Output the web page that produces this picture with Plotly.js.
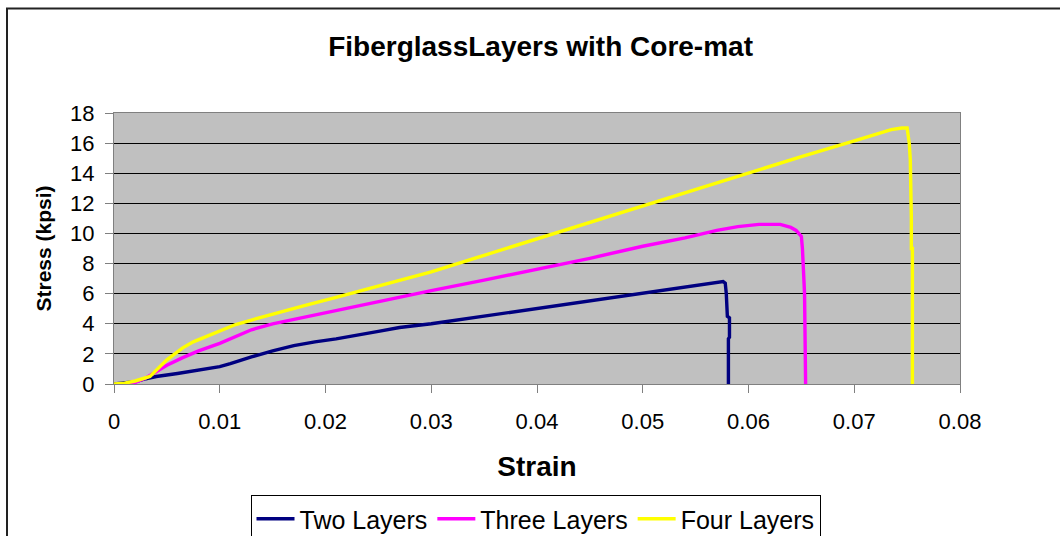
<!DOCTYPE html>
<html>
<head>
<meta charset="utf-8">
<script src="https://cdn.plot.ly/plotly-3.0.1.min.js"></script>
<style>
  html, body { margin: 0; padding: 0; background: #ffffff; }
  #chart { width: 1060px; height: 536px; }
</style>
</head>
<body>
<div id="chart"></div>
<script>
// Stress-strain curves for fiberglass laminates with a core-mat layer
const twoStrain = [0, 0.001, 0.002, 0.003, 0.004, 0.006, 0.008, 0.01, 0.011, 0.012, 0.013, 0.015, 0.017, 0.019, 0.021, 0.025, 0.027, 0.03, 0.033, 0.036, 0.04, 0.043, 0.046, 0.05, 0.053, 0.055, 0.057, 0.0576, 0.0578, 0.0579, 0.058, 0.0582, 0.0582, 0.0581, 0.0581];
const twoStress = [0, 0.05, 0.15, 0.35, 0.5, 0.7, 0.9, 1.15, 1.35, 1.6, 1.8, 2.2, 2.55, 2.8, 3.0, 3.5, 3.75, 4.0, 4.3, 4.6, 5.0, 5.3, 5.6, 6.0, 6.3, 6.55, 6.75, 6.8, 6.7, 6.0, 4.5, 4.4, 3.1, 3.0, 0];

const threeStrain = [0.0013, 0.002, 0.003, 0.004, 0.005, 0.0065, 0.008, 0.01, 0.012, 0.013, 0.015, 0.018, 0.021, 0.024, 0.027, 0.03, 0.035, 0.04, 0.045, 0.05, 0.054, 0.057, 0.059, 0.061, 0.063, 0.064, 0.0645, 0.065, 0.0651, 0.0653, 0.0654, 0.0654];
const threeStress = [0, 0.1, 0.4, 0.8, 1.25, 1.75, 2.2, 2.7, 3.3, 3.6, 4.0, 4.45, 4.9, 5.35, 5.8, 6.2, 6.9, 7.6, 8.35, 9.15, 9.7, 10.2, 10.45, 10.6, 10.6, 10.4, 10.2, 9.8, 9.0, 6.0, 2.0, 0];

const fourStrain = [0, 0.001, 0.002, 0.0034, 0.005, 0.0065, 0.0075, 0.009, 0.01, 0.0115, 0.013, 0.015, 0.018, 0.021, 0.024, 0.027, 0.03, 0.035, 0.04, 0.045, 0.05, 0.055, 0.06, 0.065, 0.07, 0.0735, 0.0745, 0.075, 0.0752, 0.0753, 0.0754, 0.0754, 0.0755, 0.0755];
const fourStress = [0, 0.05, 0.2, 0.5, 1.6, 2.4, 2.8, 3.25, 3.55, 3.95, 4.25, 4.65, 5.2, 5.75, 6.3, 6.9, 7.45, 8.55, 9.65, 10.75, 11.85, 12.95, 14.05, 15.1, 16.15, 16.9, 17.0, 17.0, 16.0, 14.9, 11.0, 9.0, 9.0, 0];

const seriesNames = ["Two Layers", "Three Layers", "Four Layers"];
const seriesColors = ["#000080", "#FF00FF", "#FFFF00"];

const xTickVals = [0, 0.01, 0.02, 0.03, 0.04, 0.05, 0.06, 0.07, 0.08];
const xTickText = ["0", "0.01", "0.02", "0.03", "0.04", "0.05", "0.06", "0.07", "0.08"];
const yTickVals = [0, 2, 4, 6, 8, 10, 12, 14, 16, 18];
const yTickText = ["0", "2", "4", "6", "8", "10", "12", "14", "16", "18"];

const FONT = "Liberation Sans, Arial, sans-serif";

const xs = [twoStrain, threeStrain, fourStrain];
const ys = [twoStress, threeStress, fourStress];
const traces = seriesNames.map((name, i) => ({
  type: "scatter",
  mode: "lines",
  name: name,
  x: xs[i],
  y: ys[i],
  line: { color: seriesColors[i], width: 3.4 }
}));

// plot area: 114..960 px horizontally, 113..384 px vertically
const L = 114, R = 960, T = 113, B = 384, W = 1060, H = 536;
const pw = R - L, ph = B - T;
const px = v => (v - L) / pw;
const py = v => (B - v) / ph;

const layout = {
  width: W,
  height: H,
  margin: { l: L, r: W - R, t: T, b: H - B, autoexpand: false },
  paper_bgcolor: "#ffffff",
  plot_bgcolor: "#C0C0C0",
  font: { family: FONT, color: "#000000" },
  showlegend: true,
  title: {
    text: "<b>FiberglassLayers with Core-mat</b>",
    font: { family: FONT, size: 28, color: "#000000" },
    x: 0.51, xanchor: "center",
    y: 1 - 46 / H, yanchor: "middle"
  },
  xaxis: {
    range: [0, 0.08],
    tickmode: "array",
    tickvals: xTickVals,
    ticktext: xTickText,
    ticks: "outside",
    ticklen: 8,
    tickcolor: "#808080",
    tickwidth: 1,
    ticklabelstandoff: 10,
    tickfont: { family: FONT, size: 22, color: "#000000" },
    showgrid: false,
    zeroline: false,
    showline: true,
    linecolor: "#808080",
    linewidth: 1,
    mirror: true,
    title: {
      text: "<b>Strain</b>",
      font: { family: FONT, size: 28, color: "#000000" },
      standoff: 22
    }
  },
  yaxis: {
    range: [0, 18],
    tickmode: "array",
    tickvals: yTickVals,
    ticktext: yTickText,
    ticks: "outside",
    ticklen: 8,
    tickcolor: "#808080",
    tickwidth: 1,
    ticklabelstandoff: 6,
    tickfont: { family: FONT, size: 22, color: "#000000" },
    showgrid: true,
    gridcolor: "#000000",
    gridwidth: 1,
    zeroline: false,
    showline: true,
    linecolor: "#808080",
    linewidth: 1,
    mirror: true,
    title: {
      text: "<b>Stress (kpsi)</b>",
      font: { family: FONT, size: 21, color: "#000000" },
      standoff: 12
    }
  },
  legend: {
    orientation: "h",
    x: px(535.5), xanchor: "center",
    y: py(495), yanchor: "top",
    bgcolor: "#ffffff",
    bordercolor: "#000000",
    borderwidth: 1,
    font: { family: FONT, size: 25, color: "#000000" },
    itemwidth: 38,
    tracegroupgap: 0
  },
  shapes: [
    {
      type: "rect", xref: "paper", yref: "paper",
      x0: px(7), x1: px(1064), y0: py(545), y1: py(8.5),
      line: { color: "#222222", width: 2 },
      fillcolor: "rgba(0,0,0,0)",
      layer: "below"
    }
  ]
};

Plotly.newPlot("chart", traces, layout, { displayModeBar: false, staticPlot: true });
</script>
</body>
</html>
